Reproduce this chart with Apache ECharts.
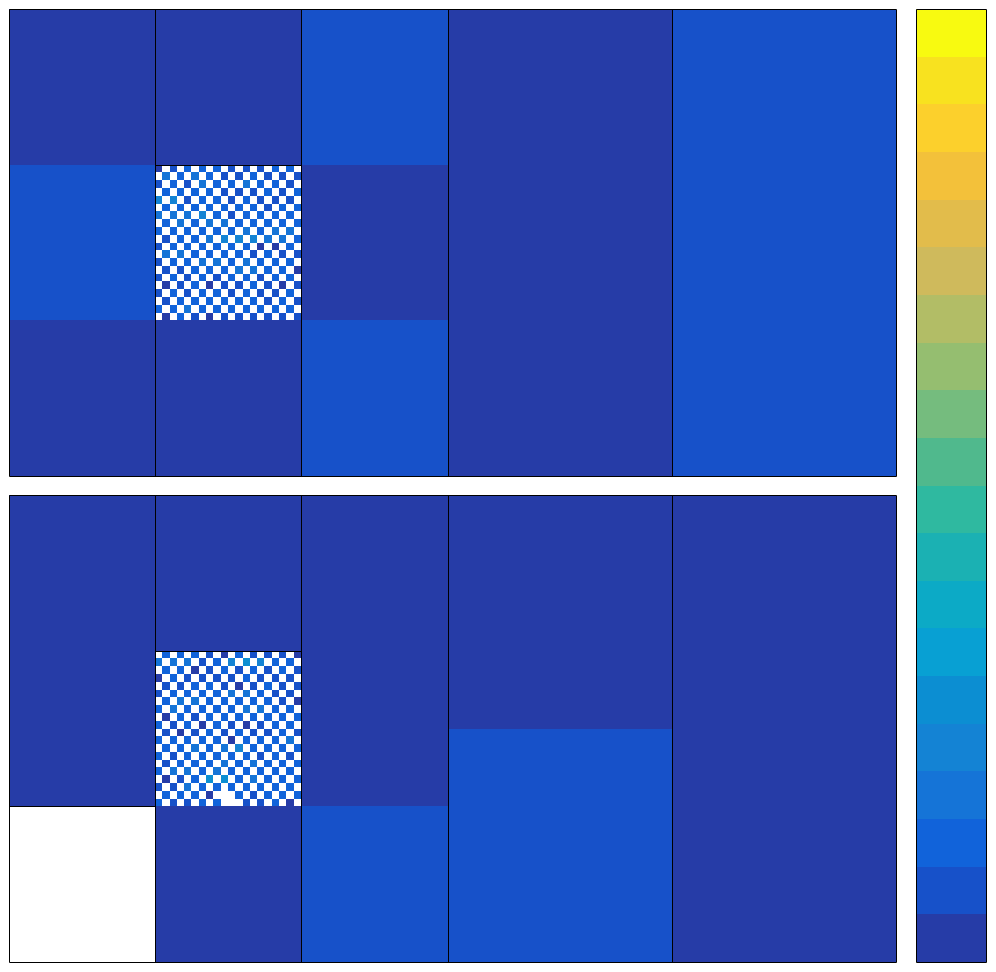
<!DOCTYPE html>
<html>
<head>
<meta charset="utf-8">
<script src="https://cdn.jsdelivr.net/npm/echarts@6/dist/echarts.min.js"></script>
<style>
  html, body { margin: 0; padding: 0; background: #fff; }
  #chart-container { width: 996px; height: 972px; }
</style>
</head>
<body>
<div id="chart-container"></div>
<script>
// colour levels, bottom of the colour bar to the top
var levelColors = [
  "#263ca7", "#1751c9", "#1163da", "#1574d7", "#1483d4",
  "#0c8ed2", "#08a0d3", "#0caac6", "#1bb1b3", "#2fb9a0",
  "#50b98d", "#75bc7e", "#95be70", "#b2bd66", "#cfba5c",
  "#e2bc4b", "#f3c13a", "#fcd02c", "#f8e21f", "#f8fa10"
];

var xEdges = [0, 13, 26, 39.1, 59.05, 79];
var yMax = 3;

// [column, yFrom, yTo, level]   level 0 = empty cell
var topBlocks = [
  [0, 2, 3, 1], [0, 1, 2, 2], [0, 0, 1, 1],
  [1, 2, 3, 1], [1, 0, 1, 1],
  [2, 2, 3, 2], [2, 1, 2, 1], [2, 0, 1, 2],
  [3, 0, 3, 1],
  [4, 0, 3, 2]
];
var bottomBlocks = [
  [0, 1, 3, 1], [0, 0, 1, 0],
  [1, 2, 3, 1], [1, 0, 1, 1],
  [2, 1, 3, 1], [2, 0, 1, 2],
  [3, 1.5, 3, 1], [3, 0, 1.5, 2],
  [4, 0, 3, 1]
];

// fine 20x20 cells inside column 1, y 1..2 ; rows from the top, "." = empty
var topChecker = [
  "1.2.3.3.3.2.2.2.3.3.",
  ".4.3.4.3.2.2.3.2.2.2",
  "2.3.2.4.3.3.4.3.3.2.",
  ".3.3.3.3.2.2.2.3.2.3",
  "5.5.2.3.3.2.3.2.2.2.",
  ".3.3.3.3.3.3.3.2.3.3",
  "4.4.4.5.3.2.3.3.3.3.",
  ".3.4.3.4.4.3.3.3.3.3",
  "3.3.3.3.3.3.4.3.4.4.",
  ".2.3.3.4.5.5.5.4.4.3",
  "2.3.3.3.3.3.3.1.1.3.",
  ".4.4.3.3.3.3.2.3.2.2",
  "2.3.3.4.4.3.4.3.3.3.",
  ".2.2.3.3.3.4.4.3.3.1",
  "2.3.2.3.2.3.3.2.3.3.",
  ".1.2.3.1.2.2.3.2.1.2",
  "2.3.2.3.3.2.3.2.2.3.",
  ".2.3.3.3.3.3.3.2.3.2",
  "3.3.4.3.3.3.3.3.3.3.",
  ".1.3.2.1.2.2.2.2.2.2"
];
var bottomChecker = [
  ".3.3.3.2.1.3.2.2.2.1",
  "4.4.4.2.3.5.6.5.3.3.",
  ".3.3.1.2.3.2.3.2.3.2",
  "1.3.2.2.2.2.3.2.2.2.",
  ".2.2.3.3.2.1.2.3.2.2",
  "2.3.3.3.3.4.4.3.2.2.",
  ".3.4.4.3.3.3.3.3.2.1",
  "3.4.3.3.3.3.4.4.3.3.",
  ".1.3.2.3.3.3.3.3.3.3",
  "3.2.3.1.3.2.1.2.3.3.",
  ".2.1.2.3.2.3.2.2.3.2",
  "3.3.3.3.3.1.3.3.3.4.",
  ".3.3.4.3.4.5.3.3.3.3",
  "3.2.3.3.3.3.3.2.3.2.",
  ".2.3.3.3.4.3.4.3.3.3",
  "3.4.4.3.4.3.3.3.3.3.",
  ".1.2.3.6.6.3.4.3.3.3",
  "2.2.4.3.3.3.3.3.3.3.",
  ".3.3.3.1...3.2.3.3.3",
  "3.2.2.3.3...2.2.3.1."
];
var checkerColumn = 1, checkerFrom = 1, checkerTo = 2;

// [x0, y0, x1, y1] edge lines drawn on top of the cells
var topEdges = [[13, 2, 26, 2]];
var bottomEdges = [[13, 2, 26, 2], [0, 1, 13, 1]];

function buildRects(blocks, checker) {
  var out = [];
  blocks.forEach(function (b) {
    out.push([xEdges[b[0]], xEdges[b[0] + 1], b[1], b[2], b[3]]);
  });
  var cx0 = xEdges[checkerColumn], cx1 = xEdges[checkerColumn + 1];
  var n = checker.length;
  var cw = (cx1 - cx0) / n, ch = (checkerTo - checkerFrom) / n;
  out.push([cx0, cx1, checkerFrom, checkerTo, 0]);
  checker.forEach(function (row, r) {
    for (var c = 0; c < row.length; c++) {
      var ch1 = row.charAt(c);
      if (ch1 === ".") continue;
      out.push([cx0 + c * cw, cx0 + (c + 1) * cw,
                checkerTo - (r + 1) * ch, checkerTo - r * ch, parseInt(ch1, 10)]);
    }
  });
  return out;
}

function buildLines(extra, xs, ymax) {
  var out = [];
  for (var i = 1; i < xs.length - 1; i++) out.push([xs[i], 0, xs[i], ymax]);
  var xl = xs[0], xr = xs[xs.length - 1];
  out.push([xl, 0, xr, 0], [xl, ymax, xr, ymax], [xl, 0, xl, ymax], [xr, 0, xr, ymax]);
  return out.concat(extra);
}

var barRects = levelColors.map(function (c, k) { return [0, 1, k, k + 1, k + 1]; });
var barLines = buildLines([], [0, 1], levelColors.length);

function renderRect(params, api) {
  var a = api.coord([api.value(0), api.value(3)]);
  var b = api.coord([api.value(1), api.value(2)]);
  var x = Math.round(a[0]), y = Math.round(a[1]);
  var lv = api.value(4);
  return {
    type: "rect",
    shape: { x: x, y: y, width: Math.round(b[0]) - x, height: Math.round(b[1]) - y },
    style: { fill: lv > 0 ? levelColors[lv - 1] : "#ffffff" }
  };
}

function renderLine(params, api) {
  var a = api.coord([api.value(0), api.value(1)]);
  var b = api.coord([api.value(2), api.value(3)]);
  return {
    type: "line",
    shape: {
      x1: Math.round(a[0]) + 0.5, y1: Math.round(a[1]) + 0.5,
      x2: Math.round(b[0]) + 0.5, y2: Math.round(b[1]) + 0.5
    },
    style: { stroke: "#000", lineWidth: 1 }
  };
}

var dom = document.getElementById("chart-container");
var myChart = echarts.init(dom);
var option = {
  animation: false,
  backgroundColor: "#fff",
  grid: [
    { left: 9, top: 9, width: 887, height: 467 },
    { left: 9, top: 495, width: 887, height: 467 },
    { left: 916, top: 9, width: 70, height: 953 }
  ],
  xAxis: [
    { type: "value", gridIndex: 0, min: 0, max: 79, show: false },
    { type: "value", gridIndex: 1, min: 0, max: 79, show: false },
    { type: "value", gridIndex: 2, min: 0, max: 1, show: false }
  ],
  yAxis: [
    { type: "value", gridIndex: 0, min: 0, max: yMax, show: false },
    { type: "value", gridIndex: 1, min: 0, max: yMax, show: false },
    { type: "value", gridIndex: 2, min: 0, max: levelColors.length, show: false }
  ],
  series: [
    { type: "custom", xAxisIndex: 0, yAxisIndex: 0, renderItem: renderRect,
      encode: { x: [0, 1], y: [2, 3] }, data: buildRects(topBlocks, topChecker) },
    { type: "custom", xAxisIndex: 1, yAxisIndex: 1, renderItem: renderRect,
      encode: { x: [0, 1], y: [2, 3] }, data: buildRects(bottomBlocks, bottomChecker) },
    { type: "custom", xAxisIndex: 2, yAxisIndex: 2, renderItem: renderRect,
      encode: { x: [0, 1], y: [2, 3] }, data: barRects },
    { type: "custom", xAxisIndex: 0, yAxisIndex: 0, renderItem: renderLine, z: 5,
      encode: { x: [0, 2], y: [1, 3] }, data: buildLines(topEdges, xEdges, yMax) },
    { type: "custom", xAxisIndex: 1, yAxisIndex: 1, renderItem: renderLine, z: 5,
      encode: { x: [0, 2], y: [1, 3] }, data: buildLines(bottomEdges, xEdges, yMax) },
    { type: "custom", xAxisIndex: 2, yAxisIndex: 2, renderItem: renderLine, z: 5,
      encode: { x: [0, 2], y: [1, 3] }, data: barLines }
  ]
};
if (option && typeof option === "object") {
  myChart.setOption(option, true);
}
</script>
</body>
</html>
